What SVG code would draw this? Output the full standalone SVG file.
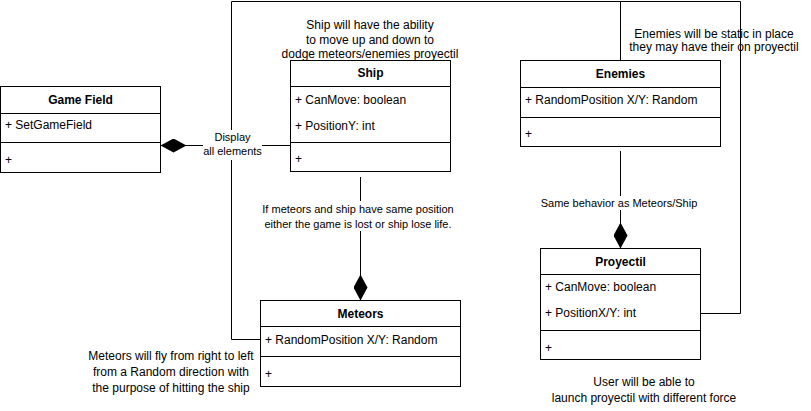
<svg xmlns="http://www.w3.org/2000/svg" width="811" height="411" viewBox="0 0 811 411">
<style>
text{font-family:"Liberation Sans",Arial,Helvetica,sans-serif;font-size:12px;fill:#000}
.h{font-weight:bold;text-anchor:middle}
.c{text-anchor:middle}
.e{text-anchor:middle;font-size:11px}
.box{fill:#fff;stroke:#000;stroke-width:1}
.ln{stroke:#000;stroke-width:1}
.edge{fill:none;stroke:#000;stroke-width:1}
.lbl{fill:#fff}
</style>
<defs>
<marker id="dia" markerUnits="userSpaceOnUse" viewBox="0 0 26 14" markerWidth="26" markerHeight="14" refX="26" refY="7" orient="auto">
<path d="M0,7 L13,0 L26,7 L13,14 Z" fill="#000"/>
</marker>
</defs>
<rect width="811" height="411" fill="#fff"/>
<g id="connectors">
<path class="edge" d="M260.5,339.5 L231.5,339.5 L231.5,1.5 L740.5,1.5 L740.5,313.5 L700.5,313.5"/>
<path class="edge" d="M620.5,60.5 L620.5,1.5"/>
<path class="edge" d="M290.5,145.5 L160.5,145.5" marker-end="url(#dia)"/>
<rect class="lbl" x="203" y="130" width="59" height="30"/>
<text class="e" x="232.5" y="141">Display</text>
<text class="e" x="232.5" y="155">all elements</text>
<path class="edge" d="M360.5,177 L360.5,300.5" marker-end="url(#dia)"/>
<rect class="lbl" x="261" y="201" width="195" height="30"/>
<text class="e" x="358" y="213">If meteors and ship have same position</text>
<text class="e" x="358" y="228">either the game is lost or ship lose life.</text>
<path class="edge" d="M620.5,151 L620.5,248.5" marker-end="url(#dia)"/>
<rect class="lbl" x="540" y="196" width="160" height="14"/>
<text class="e" x="619" y="207">Same behavior as Meteors/Ship</text>
</g>
<g id="game-field">
<rect class="box" x="0.5" y="86.5" width="160" height="86"/>
<line class="ln" x1="0.5" y1="113.5" x2="160.5" y2="113.5"/>
<line class="ln" x1="0.5" y1="142.5" x2="160.5" y2="142.5"/>
<text class="h" x="80.5" y="104">Game Field</text>
<text x="5" y="129">+ SetGameField</text>
<text x="5" y="164">+</text>
</g>
<g id="ship">
<rect class="box" x="290.5" y="60.5" width="160" height="111"/>
<line class="ln" x1="290.5" y1="86.5" x2="450.5" y2="86.5"/>
<line class="ln" x1="290.5" y1="142.5" x2="450.5" y2="142.5"/>
<text class="h" x="370.5" y="77">Ship</text>
<text x="295" y="104">+ CanMove: boolean</text>
<text x="295" y="130">+ PositionY: int</text>
<text x="295" y="163">+</text>
</g>
<g id="ship-note">
<text class="c" x="370" y="29">Ship will have the ability</text>
<text class="c" x="370" y="44">to move up and down to</text>
<text class="c" x="370" y="58">dodge meteors/enemies proyectil</text>
</g>
<g id="enemies">
<rect class="box" x="520.5" y="60.5" width="200" height="86"/>
<line class="ln" x1="520.5" y1="87.5" x2="720.5" y2="87.5"/>
<line class="ln" x1="520.5" y1="117.5" x2="720.5" y2="117.5"/>
<text class="h" x="620.5" y="78">Enemies</text>
<text x="525" y="104">+ RandomPosition X/Y: Random</text>
<text x="525" y="138">+</text>
</g>
<g id="enemies-note">
<text class="c" x="714" y="38">Enemies will be static in place</text>
<text class="c" x="714" y="51">they may have their on proyectil</text>
</g>
<g id="meteors">
<rect class="box" x="260.5" y="300.5" width="200" height="86"/>
<line class="ln" x1="260.5" y1="326.5" x2="460.5" y2="326.5"/>
<line class="ln" x1="260.5" y1="356.5" x2="460.5" y2="356.5"/>
<text class="h" x="360.5" y="318">Meteors</text>
<text x="265" y="344">+ RandomPosition X/Y: Random</text>
<text x="265" y="378">+</text>
</g>
<g id="meteors-note">
<text class="c" x="171" y="360">Meteors will fly from right to left</text>
<text class="c" x="171" y="376">from a Random direction with</text>
<text class="c" x="171" y="392">the purpose of hitting the ship</text>
</g>
<g id="proyectil">
<rect class="box" x="540.5" y="248.5" width="160" height="111"/>
<line class="ln" x1="540.5" y1="274.5" x2="700.5" y2="274.5"/>
<line class="ln" x1="540.5" y1="330.5" x2="700.5" y2="330.5"/>
<text class="h" x="620.5" y="266">Proyectil</text>
<text x="545" y="291">+ CanMove: boolean</text>
<text x="545" y="317">+ PositionX/Y: int</text>
<text x="545" y="352">+</text>
</g>
<g id="proyectil-note">
<text class="c" x="644" y="386">User will be able to</text>
<text class="c" x="644" y="402">launch proyectil with different force</text>
</g>
</svg>
